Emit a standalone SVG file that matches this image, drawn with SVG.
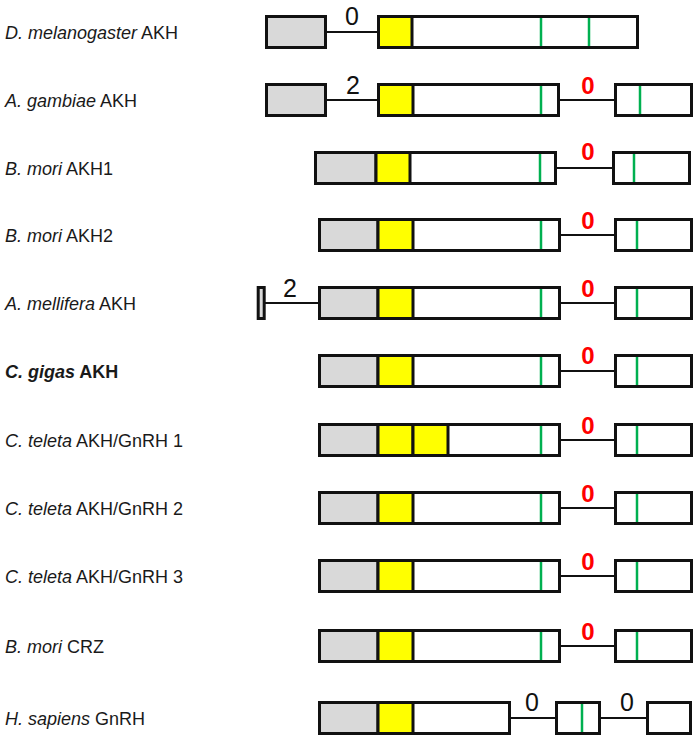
<svg xmlns="http://www.w3.org/2000/svg" width="700" height="743" viewBox="0 0 700 743">
<style>
.lbl{font-family:"Liberation Sans",Arial,sans-serif;font-size:18px;fill:#1a1a1a}
.it{font-style:italic}
.b{font-weight:bold}
.g{fill:#d9d9d9;stroke:#111;stroke-width:3}
.y{fill:#ffff00;stroke:#111;stroke-width:3}
.w{fill:#fff;stroke:#111;stroke-width:3}
.gr{stroke:#00b050;stroke-width:2.5}
.intr{stroke:#111;stroke-width:2;fill:none}
.n{font-family:"Liberation Sans",Arial,sans-serif;font-size:25px;fill:#111;text-anchor:middle}
.r{font-family:"Liberation Sans",Arial,sans-serif;font-size:24px;font-weight:bold;fill:#ff0000;text-anchor:middle}
</style>
<rect width="700" height="743" fill="#fff"/>
<g id="connectors">
<line class="intr" x1="327" y1="32" x2="377" y2="32"/>
<line class="intr" x1="327" y1="100" x2="377" y2="100"/>
<line class="intr" x1="560" y1="100" x2="614" y2="100"/>
<line class="intr" x1="557" y1="168" x2="612" y2="168"/>
<line class="intr" x1="561" y1="235" x2="614" y2="235"/>
<line class="intr" x1="265" y1="303" x2="318" y2="303"/>
<line class="intr" x1="561" y1="303" x2="614" y2="303"/>
<line class="intr" x1="561" y1="371" x2="614" y2="371"/>
<line class="intr" x1="561" y1="440" x2="614" y2="440"/>
<line class="intr" x1="561" y1="508" x2="614" y2="508"/>
<line class="intr" x1="561" y1="576" x2="614" y2="576"/>
<line class="intr" x1="561" y1="646" x2="614" y2="646"/>
<line class="intr" x1="511" y1="718" x2="555" y2="718"/>
<line class="intr" x1="601" y1="718" x2="646" y2="718"/>
</g>
<g id="dmel">
<text class="lbl" x="5" y="38.5"><tspan class="it">D. melanogaster</tspan> AKH</text>
<rect class="g" x="266.5" y="16.5" width="59" height="31"/>
<rect class="w" x="378.5" y="16.5" width="259" height="31"/>
<rect class="y" x="378.5" y="16.5" width="33.5" height="31"/>
<line class="gr" x1="541" y1="18" x2="541" y2="46"/>
<line class="gr" x1="589" y1="18" x2="589" y2="46"/>
<text class="n" x="352" y="24.5">0</text>
</g>
<g id="agam">
<text class="lbl" x="5" y="106.5"><tspan class="it">A. gambiae</tspan> AKH</text>
<rect class="g" x="266.5" y="84.5" width="59" height="31"/>
<rect class="w" x="378.5" y="84.5" width="180" height="31"/>
<rect class="y" x="378.5" y="84.5" width="34.5" height="31"/>
<line class="gr" x1="541" y1="86" x2="541" y2="114"/>
<rect class="w" x="615.5" y="84.5" width="76" height="31"/>
<line class="gr" x1="640" y1="86" x2="640" y2="114"/>
<text class="n" x="353" y="94">2</text>
<text class="r" x="588" y="93.5">0</text>
</g>
<g id="bmori1">
<text class="lbl" x="5" y="174.5"><tspan class="it">B. mori</tspan> AKH1</text>
<rect class="w" x="315.5" y="152.5" width="240" height="31"/>
<rect class="g" x="315.5" y="152.5" width="60.5" height="31"/>
<rect class="y" x="376" y="152.5" width="34" height="31"/>
<line class="gr" x1="540" y1="154" x2="540" y2="182"/>
<rect class="w" x="613.5" y="152.5" width="76" height="31"/>
<line class="gr" x1="634" y1="154" x2="634" y2="182"/>
<text class="r" x="588" y="160">0</text>
</g>
<g id="bmori2">
<text class="lbl" x="5" y="241.5"><tspan class="it">B. mori</tspan> AKH2</text>
<rect class="w" x="319.5" y="219.5" width="240" height="31"/>
<rect class="g" x="319.5" y="219.5" width="58.5" height="31"/>
<rect class="y" x="378" y="219.5" width="35" height="31"/>
<line class="gr" x1="541" y1="221" x2="541" y2="249"/>
<rect class="w" x="615.5" y="219.5" width="76" height="31"/>
<line class="gr" x1="637" y1="221" x2="637" y2="249"/>
<text class="r" x="588" y="228.5">0</text>
</g>
<g id="amel">
<text class="lbl" x="5" y="309.5"><tspan class="it">A. mellifera</tspan> AKH</text>
<rect class="g" x="258.2" y="287.5" width="6" height="31"/>
<rect class="w" x="319.5" y="287.5" width="240" height="31"/>
<rect class="g" x="319.5" y="287.5" width="58.5" height="31"/>
<rect class="y" x="378" y="287.5" width="35" height="31"/>
<line class="gr" x1="541" y1="289" x2="541" y2="317"/>
<rect class="w" x="615.5" y="287.5" width="76" height="31"/>
<line class="gr" x1="637" y1="289" x2="637" y2="317"/>
<text class="n" x="290" y="297">2</text>
<text class="r" x="588" y="296.5">0</text>
</g>
<g id="cgig">
<text class="lbl b" x="5" y="377.5"><tspan class="it">C. gigas</tspan> AKH</text>
<rect class="w" x="319.5" y="355.5" width="240" height="31"/>
<rect class="g" x="319.5" y="355.5" width="58.5" height="31"/>
<rect class="y" x="378" y="355.5" width="35" height="31"/>
<line class="gr" x1="541" y1="357" x2="541" y2="385"/>
<rect class="w" x="615.5" y="355.5" width="76" height="31"/>
<line class="gr" x1="637" y1="357" x2="637" y2="385"/>
<text class="r" x="588" y="364">0</text>
</g>
<g id="ctel1">
<text class="lbl" x="5" y="446.5"><tspan class="it">C. teleta</tspan> AKH/GnRH 1</text>
<rect class="w" x="319.5" y="424.5" width="240" height="31"/>
<rect class="g" x="319.5" y="424.5" width="58.5" height="31"/>
<rect class="y" x="378" y="424.5" width="35" height="31"/>
<rect class="y" x="413" y="424.5" width="35" height="31"/>
<line class="gr" x1="541" y1="426" x2="541" y2="454"/>
<rect class="w" x="615.5" y="424.5" width="76" height="31"/>
<line class="gr" x1="637" y1="426" x2="637" y2="454"/>
<text class="r" x="588" y="433.5">0</text>
</g>
<g id="ctel2">
<text class="lbl" x="5" y="514.5"><tspan class="it">C. teleta</tspan> AKH/GnRH 2</text>
<rect class="w" x="319.5" y="492.5" width="240" height="31"/>
<rect class="g" x="319.5" y="492.5" width="58.5" height="31"/>
<rect class="y" x="378" y="492.5" width="35" height="31"/>
<line class="gr" x1="541" y1="494" x2="541" y2="522"/>
<rect class="w" x="615.5" y="492.5" width="76" height="31"/>
<line class="gr" x1="637" y1="494" x2="637" y2="522"/>
<text class="r" x="588" y="501.5">0</text>
</g>
<g id="ctel3">
<text class="lbl" x="5" y="582.5"><tspan class="it">C. teleta</tspan> AKH/GnRH 3</text>
<rect class="w" x="319.5" y="560.5" width="240" height="31"/>
<rect class="g" x="319.5" y="560.5" width="58.5" height="31"/>
<rect class="y" x="378" y="560.5" width="35" height="31"/>
<line class="gr" x1="541" y1="562" x2="541" y2="590"/>
<rect class="w" x="615.5" y="560.5" width="76" height="31"/>
<line class="gr" x1="637" y1="562" x2="637" y2="590"/>
<text class="r" x="588" y="569.5">0</text>
</g>
<g id="bmoricrz">
<text class="lbl" x="5" y="652.5"><tspan class="it">B. mori</tspan> CRZ</text>
<rect class="w" x="319.5" y="630.5" width="240" height="31"/>
<rect class="g" x="319.5" y="630.5" width="58.5" height="31"/>
<rect class="y" x="378" y="630.5" width="35" height="31"/>
<line class="gr" x1="541" y1="632" x2="541" y2="660"/>
<rect class="w" x="615.5" y="630.5" width="76" height="31"/>
<line class="gr" x1="637" y1="632" x2="637" y2="660"/>
<text class="r" x="588" y="639.5">0</text>
</g>
<g id="hsap">
<text class="lbl" x="5" y="724.5"><tspan class="it">H. sapiens</tspan> GnRH</text>
<rect class="w" x="319.5" y="702.5" width="190" height="31"/>
<rect class="g" x="319.5" y="702.5" width="58.5" height="31"/>
<rect class="y" x="378" y="702.5" width="35" height="31"/>
<rect class="w" x="556.5" y="702.5" width="43" height="31"/>
<line class="gr" x1="582" y1="704" x2="582" y2="732"/>
<rect class="w" x="647.5" y="702.5" width="43" height="31"/>
<text class="n" x="532" y="711">0</text>
<text class="n" x="627" y="711">0</text>
</g>
</svg>
